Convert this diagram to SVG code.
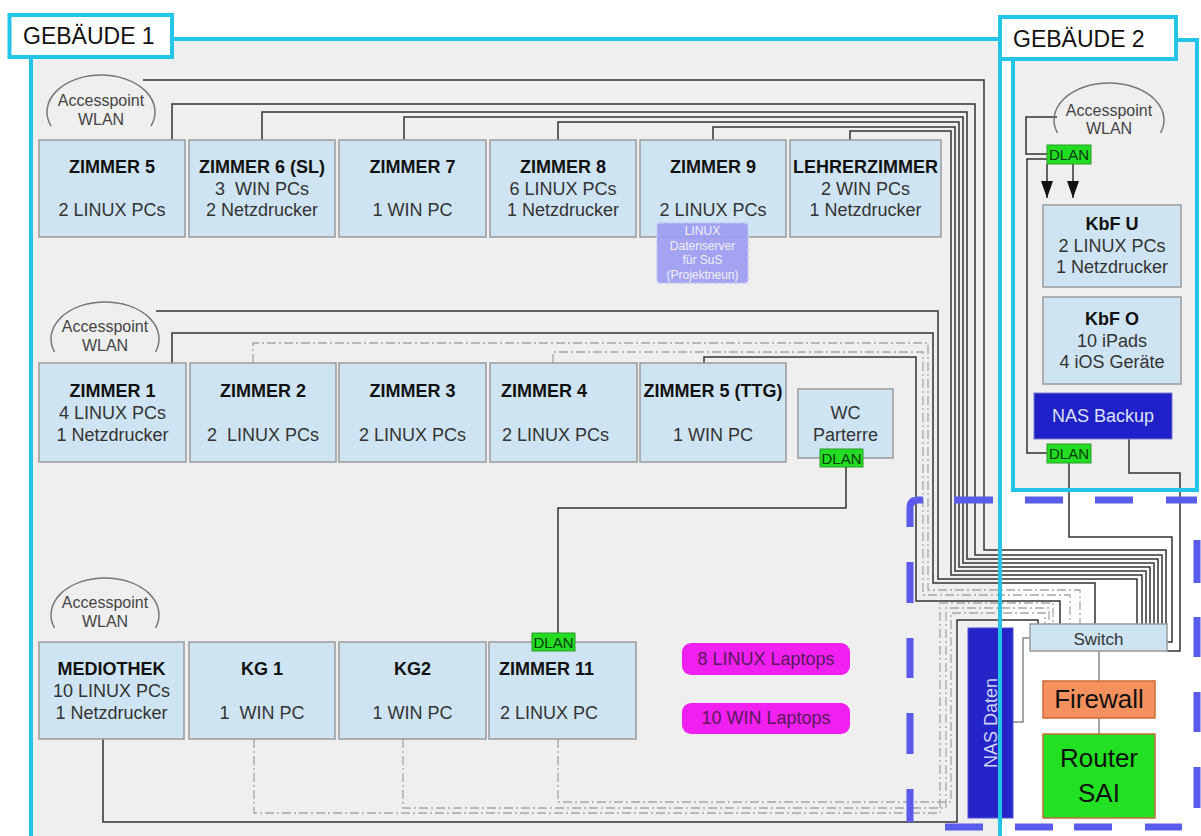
<svg xmlns="http://www.w3.org/2000/svg" width="1201" height="836" viewBox="0 0 1201 836">
<defs>
<style>
text{font-family:"Liberation Sans",Arial,sans-serif}
.bg{fill:#efefef}
.cy{fill:none;stroke:#22c4e8;stroke-width:4}
.room{fill:#cfe4f2;stroke:#9a9a9a;stroke-width:1.5}
.t{font-size:18px;font-weight:bold;fill:#111}
.d{font-size:18px;fill:#333}
.m{text-anchor:middle}
.ap{fill:none;stroke:#777;stroke-width:1.5}
.apt{font-size:16px;fill:#444;text-anchor:middle}
.dlan{fill:#22dd22;stroke:#2a9a2a;stroke-width:1}
.dlt{font-size:15px;fill:#0a3a0a;text-anchor:middle}
.c{fill:none;stroke:#333;stroke-width:1.5}
.g{fill:none;stroke:#888;stroke-width:1.5}
.dd{fill:none;stroke:#a6a6a6;stroke-width:1.3;stroke-dasharray:9 3 2 3}
.bd{fill:none;stroke:#5a5aeb;stroke-width:7}
.pill{fill:#f020f0}
.pt{font-size:18px;fill:#5a1a5a;text-anchor:middle}
</style>
<marker id="arr" markerUnits="userSpaceOnUse" viewBox="0 0 17 12" refX="17" refY="6" markerWidth="17" markerHeight="12" orient="auto"><path d="M0,0 L17,6 L0,12 Z" fill="#111"/></marker>
</defs>

<!-- backgrounds -->
<rect x="0" y="0" width="1201" height="836" fill="#ffffff"/>
<rect class="bg" x="31" y="39" width="969" height="797"/>
<rect class="bg" x="1013" y="40" width="184" height="450"/>

<!-- connectors -->
<g id="connectors">
<path class="c" d="M143,80 H984 V550 H1166 V624"/>
<path class="c" d="M172,140 V104 H975 V555 H1162 V624"/>
<path class="c" d="M262,140 V112 H967 V559 H1158 V624"/>
<path class="c" d="M404,140 V117 H963 V563 H1154 V624"/>
<path class="c" d="M558,140 V122 H959 V567 H1150 V624"/>
<path class="c" d="M713,140 V127 H955 V571 H1146 V624"/>
<path class="c" d="M850,140 V131 H951 V575 H1142 V624"/>
<path class="c" d="M156,311 H938 V579 H1137 V624"/>
<path class="c" d="M172,363 V333 H933 V583 H1095 V624"/>
<path class="c" d="M704,363 V357 H916 V601 H1060 V624"/>
<path class="c" d="M103,739 V822 H957 V620 H1038 V624"/>
<path class="c" d="M846,467 V508 H558 V633"/>
<path class="dd" d="M253,363 V343 H928 V590 H1080 V624"/>
<path class="dd" d="M553,363 V352 H923 V595 H1070 V624"/>
<path class="dd" d="M254,739 V813 H940 V603 H1053 V624"/>
<path class="dd" d="M403,739 V808 H946 V608 H1049 V624"/>
<path class="dd" d="M558,739 V802 H951 V613 H1045 V624"/>
<path class="c" d="M1057,117 H1026 V154 H1047"/>
<path class="c" d="M1047,159 H1027 V453 H1047"/>
<path class="c" d="M1047,164 V198" marker-end="url(#arr)"/>
<path class="c" d="M1073,164 V198" marker-end="url(#arr)"/>
<path class="c" d="M1129,439 V473 H1180 V651 H1167"/>
<path class="c" d="M1069,463 V537 H1172 V642 H1167"/>
<path class="g" d="M1030,638 H1023 V722 H1013"/>
<path class="g" d="M1099,651 V681 M1099,718 V734"/>
</g>

<!-- row 1 -->
<g id="ap1"><path class="ap" d="M51,126 A54,37 0 1 1 151,126"/><text class="apt" x="101" y="106">Accesspoint</text><text class="apt" x="101" y="125">WLAN</text></g>
<g id="zimmer5"><rect class="room" x="39" y="140" width="146" height="97"/><text class="t m" x="112" y="173">ZIMMER 5</text><text class="d m" x="112" y="216">2 LINUX PCs</text></g>
<g id="zimmer6"><rect class="room" x="189" y="140" width="146" height="97"/><text class="t m" x="262" y="173">ZIMMER 6 (SL)</text><text class="d m" x="262" y="195" xml:space="preserve">3  WIN PCs</text><text class="d m" x="262" y="216">2 Netzdrucker</text></g>
<g id="zimmer7"><rect class="room" x="339" y="140" width="147" height="97"/><text class="t m" x="412.5" y="173">ZIMMER 7</text><text class="d m" x="412.5" y="216">1 WIN PC</text></g>
<g id="zimmer8"><rect class="room" x="490" y="140" width="146" height="97"/><text class="t m" x="563" y="173">ZIMMER 8</text><text class="d m" x="563" y="195">6 LINUX PCs</text><text class="d m" x="563" y="216">1 Netzdrucker</text></g>
<g id="zimmer9"><rect class="room" x="640" y="140" width="146" height="97"/><text class="t m" x="713" y="173">ZIMMER 9</text><text class="d m" x="713" y="216">2 LINUX PCs</text></g>
<g id="lehrerzimmer"><rect class="room" x="790" y="140" width="151" height="97"/><text class="t m" x="865.5" y="173">LEHRERZIMMER</text><text class="d m" x="865.5" y="195">2 WIN PCs</text><text class="d m" x="865.5" y="216">1 Netzdrucker</text></g>
<g id="datenserver"><rect x="657" y="223" width="91" height="60" rx="3" fill="#9c9cf2" fill-opacity="0.92" stroke="#c4c4f8" stroke-width="1.5" stroke-dasharray="4 3"/><text x="702.5" y="235" font-size="12" fill="#f0f0ff" text-anchor="middle">LINUX</text><text x="702.5" y="249.5" font-size="12" fill="#f0f0ff" text-anchor="middle">Datenserver</text><text x="702.5" y="264" font-size="12" fill="#f0f0ff" text-anchor="middle">für SuS</text><text x="702.5" y="278.5" font-size="12" fill="#f0f0ff" text-anchor="middle">(Projektneun)</text></g>

<!-- row 2 -->
<g id="ap2"><path class="ap" d="M54.5,352 A54,37 0 1 1 155.5,352"/><text class="apt" x="105" y="332">Accesspoint</text><text class="apt" x="105" y="351">WLAN</text></g>
<g id="zimmer1"><rect class="room" x="39" y="363" width="147" height="99"/><text class="t m" x="112.5" y="397">ZIMMER 1</text><text class="d m" x="112.5" y="419">4 LINUX PCs</text><text class="d m" x="112.5" y="441">1 Netzdrucker</text></g>
<g id="zimmer2"><rect class="room" x="190" y="363" width="146" height="99"/><text class="t m" x="263" y="397">ZIMMER 2</text><text class="d m" x="263" y="441" xml:space="preserve">2  LINUX PCs</text></g>
<g id="zimmer3"><rect class="room" x="339" y="363" width="147" height="99"/><text class="t m" x="412.5" y="397">ZIMMER 3</text><text class="d m" x="412.5" y="441">2 LINUX PCs</text></g>
<g id="zimmer4"><rect class="room" x="490" y="363" width="147" height="99"/><text class="t" x="501" y="397">ZIMMER 4</text><text class="d" x="502" y="441">2 LINUX PCs</text></g>
<g id="zimmer5ttg"><rect class="room" x="640" y="363" width="146" height="99"/><text class="t m" x="713" y="397">ZIMMER 5 (TTG)</text><text class="d m" x="713" y="441">1 WIN PC</text></g>
<g id="wc"><rect class="room" x="798" y="389" width="95" height="69"/><text class="d m" x="845.5" y="419">WC</text><text class="d m" x="845.5" y="441">Parterre</text><rect class="dlan" x="820" y="449" width="43" height="18"/><text class="dlt" x="841.5" y="464">DLAN</text></g>

<!-- row 3 -->
<g id="ap3"><path class="ap" d="M54.5,628 A54,37 0 1 1 155.5,628"/><text class="apt" x="105" y="608">Accesspoint</text><text class="apt" x="105" y="627">WLAN</text></g>
<g id="mediothek"><rect class="room" x="39" y="642" width="145" height="97"/><text class="t m" x="111.5" y="675">MEDIOTHEK</text><text class="d m" x="111.5" y="697">10 LINUX PCs</text><text class="d m" x="111.5" y="719">1 Netzdrucker</text></g>
<g id="kg1"><rect class="room" x="189" y="642" width="146" height="97"/><text class="t m" x="262" y="675">KG 1</text><text class="d m" x="262" y="719" xml:space="preserve">1  WIN PC</text></g>
<g id="kg2"><rect class="room" x="339" y="642" width="147" height="97"/><text class="t m" x="412.5" y="675">KG2</text><text class="d m" x="412.5" y="719">1 WIN PC</text></g>
<g id="zimmer11"><rect class="room" x="489" y="642" width="147" height="97"/><text class="t" x="499" y="675">ZIMMER 11</text><text class="d" x="500" y="719">2 LINUX PC</text><rect class="dlan" x="532" y="633" width="43" height="18"/><text class="dlt" x="553.5" y="648">DLAN</text></g>
<g id="linuxlaptops"><rect class="pill" x="682" y="643" width="168" height="32" rx="9"/><text class="pt" x="766" y="665">8 LINUX Laptops</text></g>
<g id="winlaptops"><rect class="pill" x="682" y="703" width="168" height="31" rx="9"/><text class="pt" x="766" y="724">10 WIN Laptops</text></g>

<!-- building 2 -->
<g id="ap4"><path class="ap" d="M1057.5,133 A55,37 0 1 1 1160.5,133"/><text class="apt" x="1109" y="116">Accesspoint</text><text class="apt" x="1109" y="134">WLAN</text></g>
<g id="dlan-top"><rect class="dlan" x="1047" y="145" width="44" height="19"/><text class="dlt" x="1069" y="160">DLAN</text></g>
<g id="kbfu"><rect class="room" x="1043" y="205" width="138" height="82"/><text class="t m" x="1112" y="230">KbF U</text><text class="d m" x="1112" y="252">2 LINUX PCs</text><text class="d m" x="1112" y="273">1 Netzdrucker</text></g>
<g id="kbfo"><rect class="room" x="1043" y="297" width="138" height="87"/><text class="t m" x="1112" y="325">KbF O</text><text class="d m" x="1112" y="347">10 iPads</text><text class="d m" x="1112" y="368">4 iOS Geräte</text></g>
<g id="nasbackup"><rect x="1034" y="393" width="138" height="46" fill="#2020c8" stroke="#7a7ad0" stroke-width="1"/><text x="1103" y="422" font-size="18" fill="#dde0f4" text-anchor="middle">NAS Backup</text></g>
<g id="dlan-bottom"><rect class="dlan" x="1047" y="444" width="44" height="19"/><text class="dlt" x="1069" y="459">DLAN</text></g>

<!-- server room -->
<g id="switch"><rect class="room" x="1030" y="624" width="137" height="27"/><text x="1098.5" y="645" font-size="17" fill="#333" text-anchor="middle">Switch</text></g>
<g id="firewall"><rect x="1043" y="681" width="112" height="37" fill="#f5905f" stroke="#d06a3a" stroke-width="1.5"/><text x="1099" y="708" font-size="26" fill="#111" text-anchor="middle">Firewall</text></g>
<g id="router"><rect x="1043" y="734" width="112" height="84" fill="#22e022" stroke="#c0703a" stroke-width="1.5"/><text x="1099" y="767" font-size="26" fill="#111" text-anchor="middle">Router</text><text x="1099" y="802" font-size="26" fill="#111" text-anchor="middle">SAI</text></g>
<g id="nasdaten"><rect x="968" y="628" width="45" height="190" fill="#2424c8" stroke="#5050d0" stroke-width="1"/><text transform="translate(997,723) rotate(-90)" font-size="18" fill="#cfd2f0" text-anchor="middle">NAS Daten</text></g>

<!-- building frames -->
<g id="gebaeude1">
<path class="cy" d="M31,57 V836 M172,39 H1000"/>
<rect x="9.5" y="15" width="162.5" height="42" fill="#ffffff" stroke="#22c4e8" stroke-width="4"/>
<text x="23" y="44" font-size="23" fill="#111">GEBÄUDE 1</text>
</g>
<g id="gebaeude2">
<path class="cy" d="M1000,59 V836 M1176,40 H1197 V490 H1013 V59"/>
<rect x="1000" y="17" width="176" height="42" fill="#ffffff" stroke="#22c4e8" stroke-width="4"/>
<text x="1013" y="47" font-size="23" fill="#111">GEBÄUDE 2</text>
</g>

<!-- server room dashed border -->
<g id="serverroom">
<path class="bd" d="M910,527 V508 Q910,500 918,500 H923"/>
<path class="bd" d="M954,500 H993 M1025,500 H1063 M1095,500 H1133 M1166,500 H1197"/>
<path class="bd" d="M910,562 V603 M910,638 V678 M910,713 V754 M910,789 V822"/>
<path class="bd" d="M1197,540 V583 M1197,617 V657 M1197,692 V732 M1197,767 V808"/>
<path class="bd" d="M945,827 H983 M1015,827 H1053 M1074,827 H1112 M1145,827 H1182"/>
</g>
</svg>
